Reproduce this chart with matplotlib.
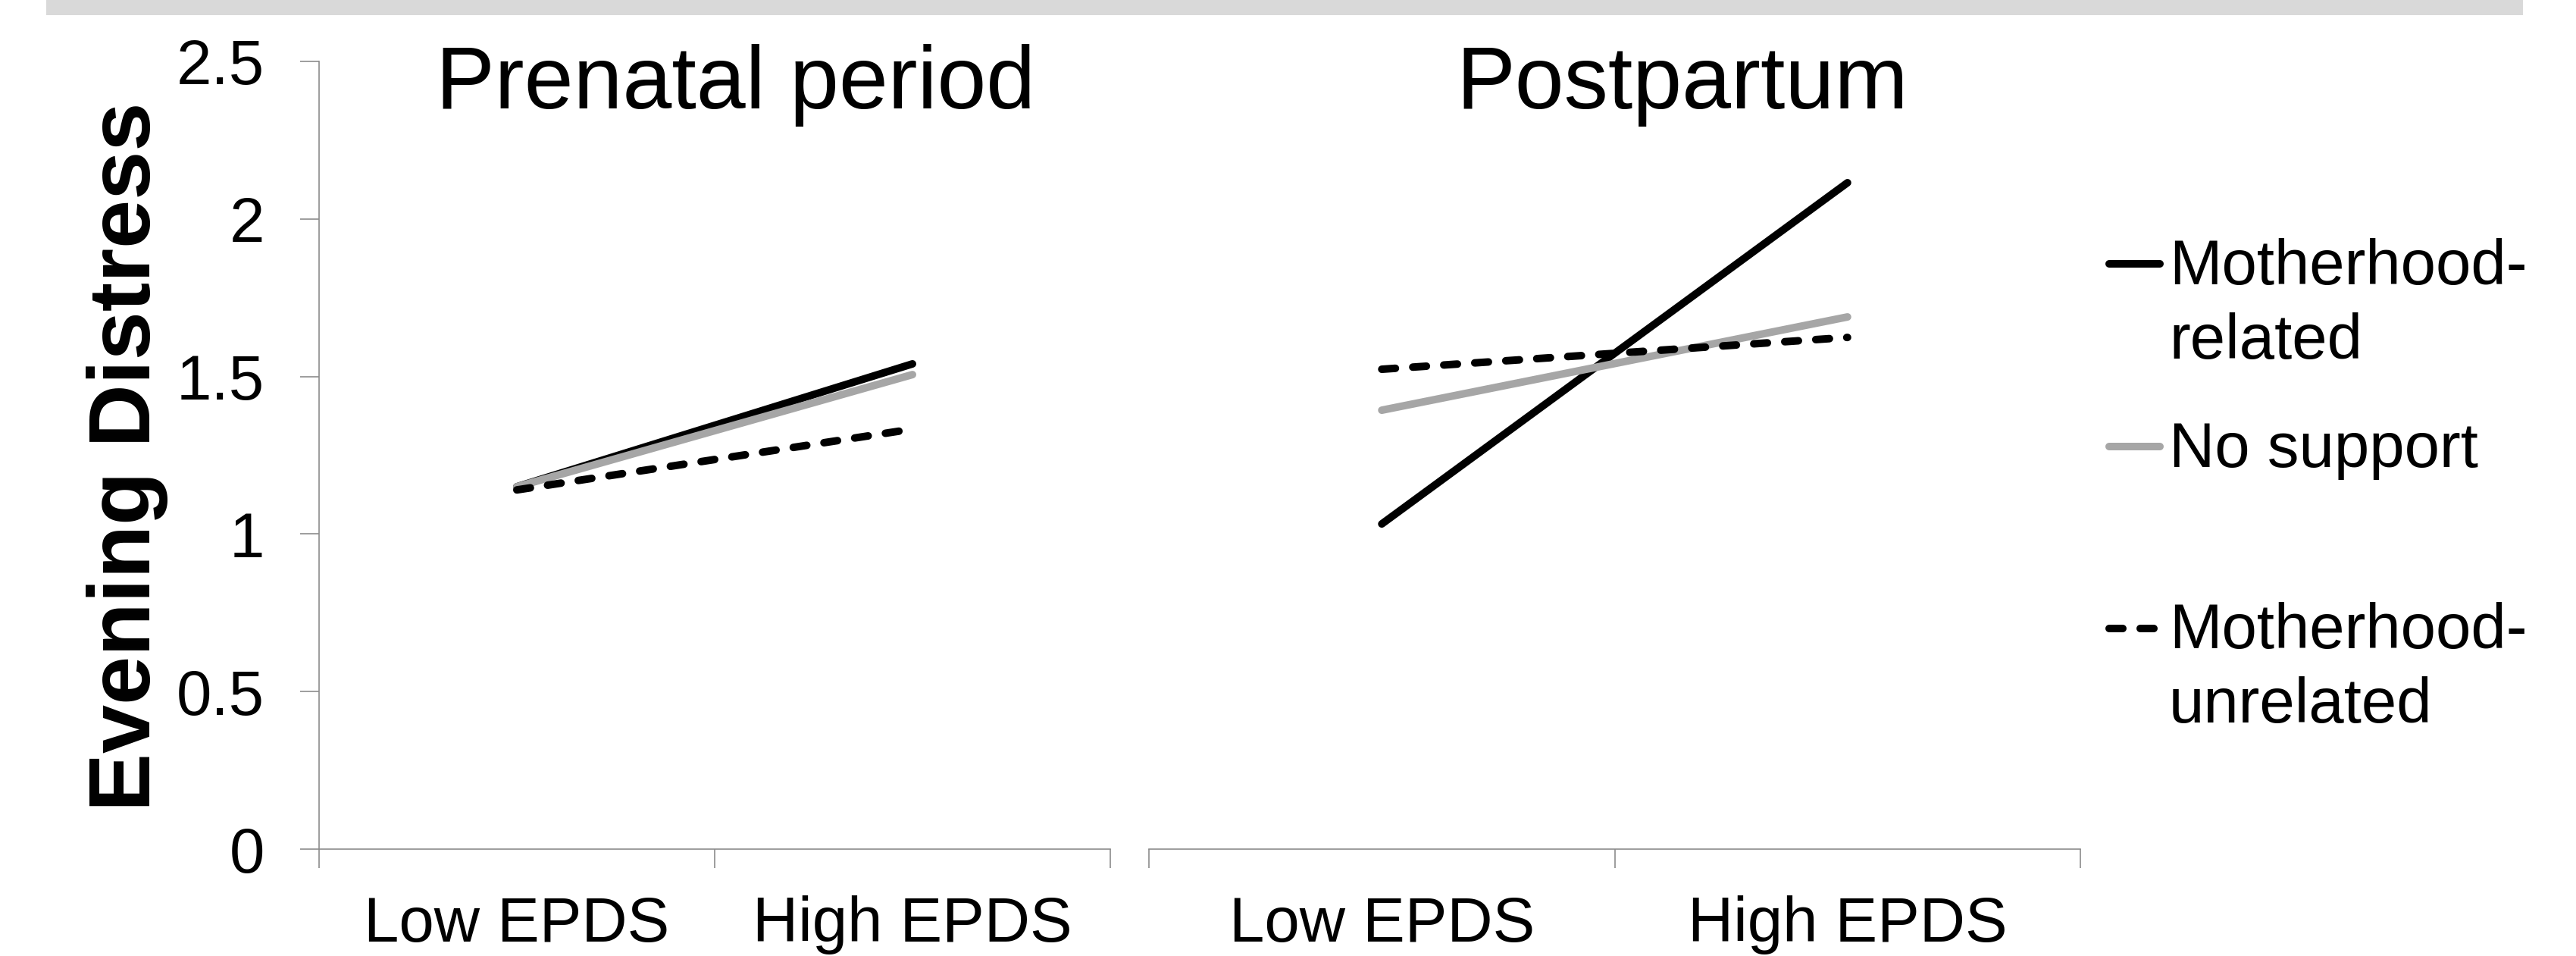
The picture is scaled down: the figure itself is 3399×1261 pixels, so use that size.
import matplotlib
matplotlib.use("Agg")
import matplotlib.pyplot as plt
from matplotlib.patches import Rectangle
from matplotlib.ticker import FixedLocator, NullFormatter, FixedFormatter

plt.rcParams['font.family'] = ['Liberation Sans', 'DejaVu Sans']

# ---------------- data ----------------
categories = ["Low EPDS", "High EPDS"]
panels = ["Prenatal period", "Postpartum"]
series_names = ["Motherhood-\nrelated", "No support", "Motherhood-\nunrelated"]
prenatal_related = [1.15, 1.54]
prenatal_nosupport = [1.15, 1.506]
prenatal_unrelated = [1.14, 1.333]
postpartum_related = [1.032, 2.115]
postpartum_nosupport = [1.393, 1.689]
postpartum_unrelated = [1.523, 1.624]
y_ticks = [0, 0.5, 1, 1.5, 2, 2.5]
y_ticklabels = ["0", "0.5", "1", "1.5", "2", "2.5"]
y_label = "Evening Distress"

W, H = 3399, 1261
DPI = 100
fig = plt.figure(figsize=(W / DPI, H / DPI), dpi=DPI)
fig.patch.set_facecolor("white")

# gray band at top
fig.patches.append(Rectangle((61 / W, 1 - 20 / H), (3329 - 61) / W, 20 / H,
                             transform=fig.transFigure, facecolor="#d9d9d9",
                             edgecolor="none", zorder=0))

AX_COL = "#8c8c8c"
AX_LW = 1.2
LW = 7.2
GRAY = "#a6a6a6"
DASH = (0, (1.8, 2.3))

bottom = (H - 1120) / H
top = (H - 81) / H
height = top - bottom

ax1 = fig.add_axes([421 / W, bottom, (1465 - 421) / W, height])
ax2 = fig.add_axes([1516 / W, bottom, (2745 - 1516) / W, height])

styles = [dict(color="black", linestyle="-"),
          dict(color=GRAY, linestyle="-"),
          dict(color="black", linestyle=DASH)]

data = [(ax1, [prenatal_related, prenatal_nosupport, prenatal_unrelated]),
        (ax2, [postpartum_related, postpartum_nosupport, postpartum_unrelated])]

xpos = [0.5, 1.5]
for ax, series in data:
    for vals, st in zip(series, styles):
        ax.plot(xpos, vals, linewidth=LW, solid_capstyle="round",
                dash_capstyle="round", **st)
    ax.set_xlim(0, 2)
    ax.set_ylim(0, 2.5)
    for s in ["top", "right"]:
        ax.spines[s].set_visible(False)
    ax.spines["bottom"].set_color(AX_COL)
    ax.spines["bottom"].set_linewidth(AX_LW)
    ax.xaxis.set_major_locator(FixedLocator([0, 1, 2]))
    ax.xaxis.set_major_formatter(NullFormatter())
    ax.xaxis.set_minor_locator(FixedLocator(xpos))
    ax.xaxis.set_minor_formatter(FixedFormatter(categories))
    ax.tick_params(axis="x", which="major", direction="out", length=18,
                   width=AX_LW, color=AX_COL)
    ax.tick_params(axis="x", which="minor", length=0, pad=44, labelsize=60)
    ax.set_facecolor("none")

ax1.spines["left"].set_color(AX_COL)
ax1.spines["left"].set_linewidth(AX_LW)
ax1.set_yticks(y_ticks)
ax1.set_yticklabels(y_ticklabels)
ax1.tick_params(axis="y", direction="out", length=18, width=AX_LW,
                color=AX_COL, labelsize=60, pad=34)

ax2.spines["left"].set_visible(False)
ax2.set_yticks([])

# titles
fig.text(971 / W, 1 - 143 / H, panels[0], fontsize=84, ha="center", va="baseline")
fig.text(2220 / W, 1 - 143 / H, panels[1], fontsize=84, ha="center", va="baseline")

# y label
fig.text(168 / W, 1 - 602 / H, y_label, fontsize=83, fontweight="bold",
         rotation=90, ha="center", va="center")

# legend (manual, in pixel coordinates)
lax = fig.add_axes([0, 0, 1, 1])
lax.set_xlim(0, W)
lax.set_ylim(H, 0)
lax.axis("off")
leg_y = [348, 589, 829]
leg_base = [375, 616, 855]
for name, st, ly, lb in zip(series_names, styles, leg_y, leg_base):
    lax.plot([2783, 2850], [ly, ly], linewidth=LW, solid_capstyle="round",
             dash_capstyle="round", **st)
    for k, line in enumerate(name.split("\n")):
        lax.text(2862, lb + 98 * k, line, fontsize=60, ha="left", va="baseline")

fig.savefig("out.png", dpi=DPI, facecolor="white")
